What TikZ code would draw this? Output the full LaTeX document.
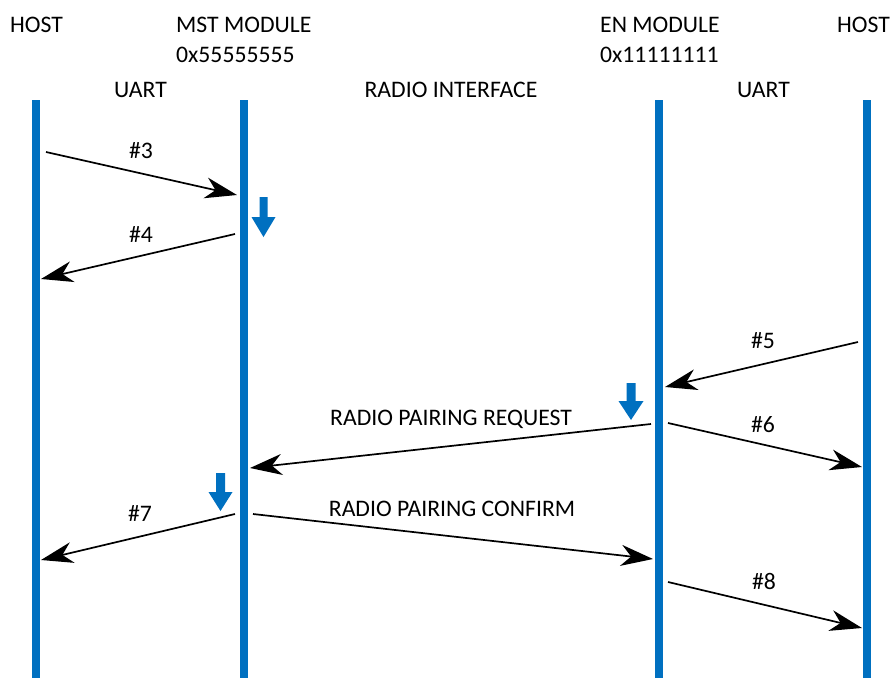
\documentclass[tikz,border=0pt]{standalone}
\usepackage{fontspec}
\setmainfont{Carlito}
\usetikzlibrary{arrows.meta}
\definecolor{lifeblue}{HTML}{0070C0}
\begin{document}
\begin{tikzpicture}[x=1pt,y=-1pt,
  every node/.style={inner sep=0pt, font=\fontsize{23.7}{28}\selectfont},
  lifeline/.style={draw=lifeblue, line width=8pt},
  msg/.style={draw=black, line width=1.7pt,
    -{Stealth[length=32pt, width=21pt, inset=10pt]}},
  msglabel/.style={anchor=base},
  stepmark/.style={fill=lifeblue}
]
\useasboundingbox (0,0) rectangle (895,678);

% column headers
\node[anchor=base west] (hostL) at (10,32) {HOST};
\node[anchor=base west] (mst) at (176,32) {MST MODULE};
\node[anchor=base west] (mstaddr) at (176,62) {0x55555555};
\node[anchor=base west] (en) at (600,32) {EN MODULE};
\node[anchor=base west] (enaddr) at (600,62) {0x11111111};
\node[anchor=base east] (hostR) at (890,32) {HOST};
\node[anchor=base] (uartL) at (140.5,97) {UART};
\node[anchor=base] (radio) at (451,97) {RADIO INTERFACE};
\node[anchor=base] (uartR) at (763.5,97) {UART};

% lifelines
\coordinate (l1t) at (35.5,100); \coordinate (l1b) at (35.5,678);
\coordinate (l2t) at (243.5,100); \coordinate (l2b) at (243.5,678);
\coordinate (l3t) at (659,100); \coordinate (l3b) at (659,678);
\coordinate (l4t) at (866.5,100); \coordinate (l4b) at (866.5,678);
\draw[lifeline] (l1t) -- (l1b);
\draw[lifeline] (l2t) -- (l2b);
\draw[lifeline] (l3t) -- (l3b);
\draw[lifeline] (l4t) -- (l4b);

% message end points
\coordinate (m3s) at (46,152);   \coordinate (m3e) at (237,195);
\coordinate (m4s) at (235,234);  \coordinate (m4e) at (41,279);
\coordinate (m5s) at (858,342);  \coordinate (m5e) at (665,387);
\coordinate (rqs) at (651,424);  \coordinate (rqe) at (250,468);
\coordinate (m6s) at (668,423);  \coordinate (m6e) at (862,467);
\coordinate (m7s) at (235,514);  \coordinate (m7e) at (41,560);
\coordinate (rcs) at (253,514);  \coordinate (rce) at (653,559);
\coordinate (m8s) at (668,582);  \coordinate (m8e) at (862,628);

% messages
\draw[msg] (m3s) -- (m3e);
\draw[msg] (m4s) -- (m4e);
\draw[msg] (m5s) -- (m5e);
\draw[msg] (rqs) -- (rqe);
\draw[msg] (m6s) -- (m6e);
\draw[msg] (m7s) -- (m7e);
\draw[msg] (rcs) -- (rce);
\draw[msg] (m8s) -- (m8e);

% message labels
\node[msglabel] (t3) at (141,158) {\#3};
\node[msglabel] (t4) at (141,242) {\#4};
\node[msglabel] (t5) at (763,348) {\#5};
\node[msglabel] (trq) at (451,425) {RADIO PAIRING REQUEST};
\node[msglabel] (t6) at (763,432) {\#6};
\node[msglabel] (t7) at (140,521) {\#7};
\node[msglabel] (trc) at (452,516) {RADIO PAIRING CONFIRM};
\node[msglabel] (t8) at (764,589) {\#8};

% processing markers (block down arrows)
\fill[stepmark] (259.5,197) -- (267.5,197) -- (267.5,217) -- (275.5,217)
  -- (263.5,237) -- (251.5,217) -- (259.5,217) -- cycle;
\fill[stepmark] (626.5,383) -- (635.5,383) -- (635.5,401) -- (643.5,401)
  -- (631,420) -- (618.5,401) -- (626.5,401) -- cycle;
\fill[stepmark] (216,473) -- (225,473) -- (225,492) -- (232.5,492)
  -- (220.5,511) -- (208.5,492) -- (216,492) -- cycle;
\end{tikzpicture}
\end{document}
